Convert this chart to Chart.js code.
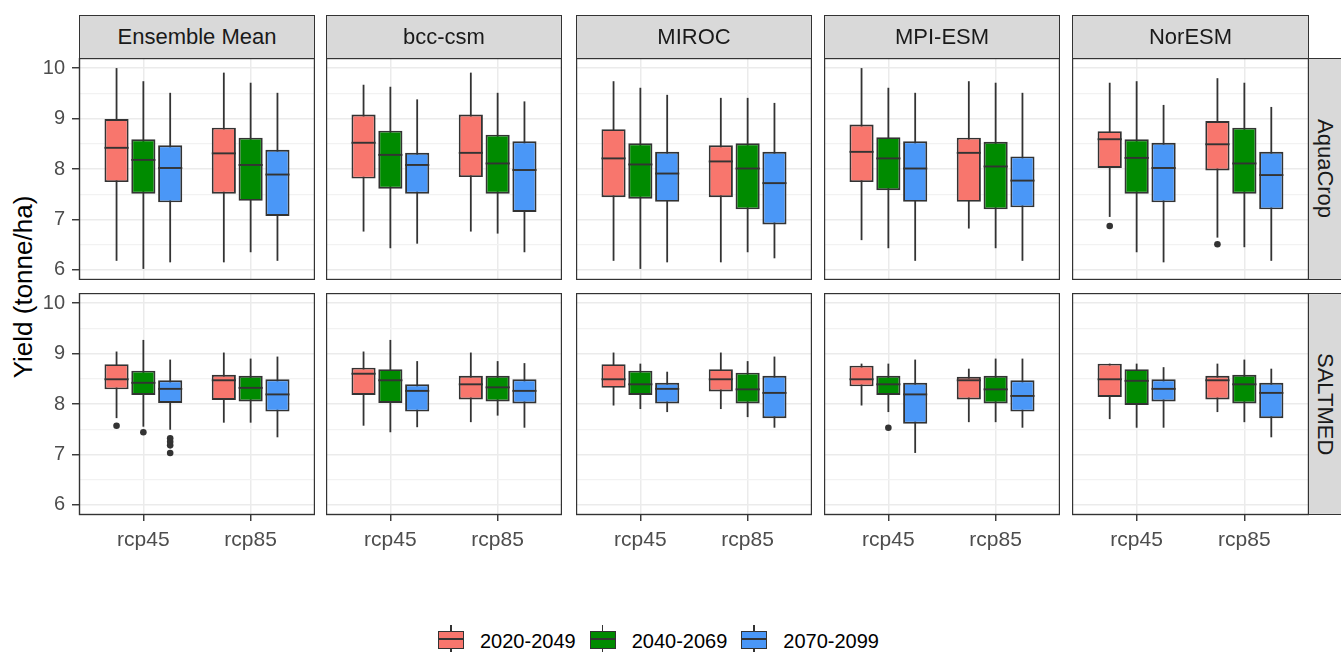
<!DOCTYPE html>
<html>
<head>
<meta charset="utf-8">
<title>Yield boxplots by GCM and crop model</title>
<script src="https://cdn.jsdelivr.net/npm/chart.js@4.4.1/dist/chart.umd.min.js"></script>
<style>
  html, body { margin: 0; padding: 0; background: #fff; }
  body { width: 1341px; height: 652px; position: relative; overflow: hidden;
         font-family: 'Liberation Sans', Arial, sans-serif; }
  canvas { position: absolute; }
  .strip { position: absolute; box-sizing: border-box; background: #d9d9d9;
           border: 1.3px solid #333; color: #1a1a1a; font-size: 22px;
           display: flex; align-items: center; justify-content: center; white-space: nowrap; }
  .strip.right { writing-mode: vertical-rl; }
  .ytitle { position: absolute; left: 23px; top: 287px; font-size: 26px; color: #000;
            transform: translate(-50%, -50%) rotate(-90deg); white-space: nowrap; }
  .legend { position: absolute; left: 438px; top: 622px; display: flex; }
  .item { display: flex; align-items: center; height: 38px; margin-right: 14px; }
  .key { position: relative; width: 26px; height: 38px; }
  .key .wh { position: absolute; left: 12px; top: 3px; width: 1.8px; height: 32px; background: #333; }
  .key .box { position: absolute; left: 0; top: 9px; width: 26px; height: 18px;
              box-sizing: border-box; border: 1.8px solid #333; }
  .key .med { position: absolute; left: 0; right: 0; top: 6px; height: 1.8px; background: #333; }
  .item span { margin-left: 16px; font-size: 20px; color: #000; }
</style>
</head>
<body>
<div class="ytitle">Yield (tonne/ha)</div>
<script>
/* Facetted boxplots: GCM (columns) x crop model (rows), boxes by period */

const MODELS = ['Ensemble Mean', 'bcc-csm', 'MIROC', 'MPI-ESM', 'NorESM'];
const CROP_MODELS = ['AquaCrop', 'SALTMED'];
const SCENARIOS = ['rcp45', 'rcp85'];
const PERIODS = ['2020-2049', '2040-2069', '2070-2099'];
const Y_MAJOR = [6, 7, 8, 9, 10];
const Y_MINOR = [6.5, 7.5, 8.5, 9.5];

// five numbers per box: [lower whisker, Q1, median, Q3, upper whisker]
// one row per period, each row = [rcp45, rcp85]
const AQUA_ENSEMBLE = [
  [[6.18, 7.74, 8.42, 8.99, 10.00], [6.15, 7.51, 8.31, 8.82, 9.91]],
  [[6.02, 7.51, 8.18, 8.59, 9.74], [6.35, 7.37, 8.08, 8.62, 9.71]],
  [[6.15, 7.34, 8.02, 8.47, 9.51], [6.18, 7.07, 7.89, 8.38, 9.51]],
];
const AQUA_BCC = [
  [[6.76, 7.81, 8.52, 9.08, 9.67], [6.76, 7.84, 8.32, 9.08, 9.91]],
  [[6.43, 7.61, 8.28, 8.76, 9.63], [6.72, 7.51, 8.11, 8.68, 9.51]],
  [[6.52, 7.51, 8.08, 8.32, 9.38], [6.35, 7.15, 7.98, 8.55, 9.34]],
];
const AQUA_MIROC = [
  [[6.18, 7.44, 8.21, 8.79, 9.74], [6.15, 7.44, 8.15, 8.47, 9.41]],
  [[6.02, 7.41, 8.09, 8.51, 9.61], [6.35, 7.20, 8.01, 8.51, 9.41]],
  [[6.15, 7.35, 7.91, 8.34, 9.47], [6.23, 6.90, 7.72, 8.34, 9.31]],
];
const AQUA_MPI = [
  [[6.59, 7.74, 8.34, 8.88, 10.00], [6.82, 7.35, 8.32, 8.62, 9.74]],
  [[6.43, 7.58, 8.21, 8.63, 9.61], [6.43, 7.20, 8.05, 8.54, 9.71]],
  [[6.18, 7.35, 8.01, 8.55, 9.51], [6.18, 7.24, 7.77, 8.25, 9.51]],
];
const AQUA_NOR = [
  [[7.05, 8.02, 8.59, 8.75, 9.71], [6.64, 7.97, 8.49, 8.95, 9.80]],
  [[6.35, 7.51, 8.22, 8.59, 9.74], [6.45, 7.51, 8.11, 8.82, 9.71]],
  [[6.15, 7.34, 8.02, 8.52, 9.27], [6.18, 7.20, 7.88, 8.34, 9.23]],
];

const SALT_ENSEMBLE = [
  [[7.72, 8.29, 8.49, 8.79, 9.04], [7.63, 8.08, 8.47, 8.58, 9.02]],
  [[7.55, 8.18, 8.42, 8.66, 9.27], [7.63, 8.05, 8.32, 8.56, 8.90]],
  [[7.49, 8.02, 8.30, 8.47, 8.88], [7.34, 7.85, 8.19, 8.49, 8.94]],
];
const SALT_BCC = [
  [[7.57, 8.18, 8.60, 8.72, 9.04], [7.64, 8.09, 8.39, 8.56, 9.02]],
  [[7.44, 8.02, 8.47, 8.69, 9.27], [7.77, 8.05, 8.33, 8.56, 8.85]],
  [[7.54, 7.85, 8.26, 8.39, 8.85], [7.53, 8.01, 8.26, 8.49, 8.81]],
];
const SALT_MIROC = [
  [[7.97, 8.32, 8.49, 8.79, 9.02], [7.90, 8.25, 8.49, 8.69, 9.02]],
  [[7.90, 8.18, 8.39, 8.66, 8.80], [7.74, 8.01, 8.29, 8.62, 8.85]],
  [[7.84, 8.01, 8.30, 8.42, 8.64], [7.53, 7.72, 8.22, 8.56, 8.94]],
];
const SALT_MPI = [
  [[7.97, 8.35, 8.49, 8.76, 8.80], [7.64, 8.09, 8.47, 8.54, 8.70]],
  [[7.84, 8.18, 8.39, 8.56, 8.80], [7.64, 8.01, 8.29, 8.56, 8.90]],
  [[7.03, 7.61, 8.19, 8.42, 8.88], [7.53, 7.85, 8.16, 8.47, 8.90]],
];
const SALT_NOR = [
  [[7.70, 8.14, 8.49, 8.80, 8.80], [7.84, 8.09, 8.47, 8.56, 8.80]],
  [[7.53, 7.98, 8.46, 8.69, 8.80], [7.64, 8.01, 8.39, 8.58, 8.88]],
  [[7.53, 8.05, 8.30, 8.49, 8.73], [7.34, 7.72, 8.22, 8.42, 8.70]],
];

// outlier points, same shape (period x scenario)
const NO_OUT = [[[], []], [[], []], [[], []]];
const AQUA_NOR_OUT = [[[6.87], [6.51]], [[], []], [[], []]];
const SALT_ENSEMBLE_OUT = [[[7.57], []], [[7.44], []], [[7.32, 7.25, 7.18, 7.03], []]];
const SALT_MPI_OUT = [[[], []], [[7.53], []], [[], []]];

const STATS = [
  [AQUA_ENSEMBLE, AQUA_BCC, AQUA_MIROC, AQUA_MPI, AQUA_NOR],
  [SALT_ENSEMBLE, SALT_BCC, SALT_MIROC, SALT_MPI, SALT_NOR],
];
const OUTLIERS = [
  [NO_OUT, NO_OUT, NO_OUT, NO_OUT, AQUA_NOR_OUT],
  [SALT_ENSEMBLE_OUT, NO_OUT, NO_OUT, SALT_MPI_OUT, NO_OUT],
];

// colours and layout
const PERIOD_COLORS = ['#F8766D', '#008B00', '#4A97F7'];
const LINE = '#333333';
const PANEL_LEFT = [79, 326, 576, 824, 1072];
const PANEL_W = 236;
const PANEL_TOP = [58, 293];
const PANEL_H = 222;
const STRIP = 43;
const Y_AXIS_W = 79;
const X_AXIS_H = 44;

Chart.defaults.font.family = "'Liberation Sans', Arial, sans-serif";

const boxExtras = {
  id: 'boxExtras',
  afterDatasetsDraw(chart) {
    const ctx = chart.ctx;
    const y = chart.scales.y;
    chart.data.datasets.forEach((ds, i) => {
      if (!ds.medians) return;
      chart.getDatasetMeta(i).data.forEach((bar, j) => {
        const { x, width } = bar.getProps(['x', 'width'], true);
        const ym = y.getPixelForValue(ds.medians[j]);
        ctx.save();
        ctx.strokeStyle = LINE;
        ctx.fillStyle = LINE;
        ctx.lineWidth = 1.9;
        ctx.beginPath();
        ctx.moveTo(x - width / 2, ym);
        ctx.lineTo(x + width / 2, ym);
        ctx.stroke();
        ds.outliers[j].forEach(v => {
          ctx.beginPath();
          ctx.arc(x, y.getPixelForValue(v), 3.3, 0, Math.PI * 2);
          ctx.fill();
        });
        ctx.restore();
      });
    });
  },
  afterDraw(chart) {
    const a = chart.chartArea;
    const ctx = chart.ctx;
    ctx.save();
    ctx.strokeStyle = LINE;
    ctx.lineWidth = 1.4;
    ctx.strokeRect(a.left + 0.5, a.top + 0.5, a.right - a.left - 1, a.bottom - a.top - 1);
    ctx.restore();
  }
};

function isMajor(v) {
  return Number.isInteger(v);
}

function makePanel(r, c) {
  const stats = STATS[r][c];
  const outs = OUTLIERS[r][c];
  const showY = c === 0;
  const showX = r === CROP_MODELS.length - 1;

  const canvas = document.createElement('canvas');
  const left = showY ? PANEL_LEFT[c] - Y_AXIS_W : PANEL_LEFT[c];
  const w = PANEL_W + (showY ? Y_AXIS_W : 0) + (c === MODELS.length - 1 ? 1 : 0);
  const h = PANEL_H + (showX ? X_AXIS_H : 0);
  canvas.width = w;
  canvas.height = h;
  canvas.style.left = left + 'px';
  canvas.style.top = PANEL_TOP[r] + 'px';
  document.body.appendChild(canvas);

  const datasets = [];
  PERIODS.forEach((p, k) => {
    datasets.push({
      label: p,
      data: SCENARIOS.map((s, j) => ({ x: j + 1, y: [stats[k][j][1], stats[k][j][3]] })),
      medians: SCENARIOS.map((s, j) => stats[k][j][2]),
      outliers: SCENARIOS.map((s, j) => outs[k][j]),
      backgroundColor: PERIOD_COLORS[k],
      borderColor: LINE,
      borderWidth: 1.9,
      borderSkipped: false,
      stack: 'p' + k,
      order: 0,
      categoryPercentage: 0.75,
      barPercentage: 0.9,
    });
  });
  // whiskers share the stack slot of their box and sit behind it
  PERIODS.forEach((p, k) => {
    datasets.push({
      label: p + ' whiskers',
      data: SCENARIOS.map((s, j) => ({ x: j + 1, y: [stats[k][j][0], stats[k][j][4]] })),
      backgroundColor: LINE,
      borderWidth: 0,
      maxBarThickness: 1.8,
      stack: 'p' + k,
      order: 1,
      categoryPercentage: 0.75,
      barPercentage: 0.9,
    });
  });

  new Chart(canvas, {
    type: 'bar',
    data: { datasets },
    plugins: [boxExtras],
    options: {
      responsive: false,
      animation: false,
      devicePixelRatio: 1,
      layout: { padding: 0 },
      plugins: { legend: { display: false }, tooltip: { enabled: false } },
      scales: {
        x: {
          type: 'linear',
          min: 0.4,
          max: 2.6,
          offset: false,
          bounds: 'data',
          afterBuildTicks: s => { s.ticks = SCENARIOS.map((n, j) => ({ value: j + 1 })); },
          afterFit: s => { s.height = showX ? X_AXIS_H : 0; s.paddingLeft = 0; s.paddingRight = 0; },
          ticks: {
            display: showX, autoSkip: false, maxRotation: 0, padding: 7,
            color: '#4d4d4d', font: { size: 21 },
            callback: v => SCENARIOS[v - 1],
          },
          grid: {
            offset: false, color: '#ebebeb', lineWidth: 1.5,
            drawTicks: showX, tickLength: 6, tickColor: LINE, tickWidth: 1.4,
          },
          border: { display: false },
        },
        y: {
          min: 5.8,
          max: 10.2,
          stacked: false,
          bounds: 'data',
          afterBuildTicks: s => {
            s.ticks = Y_MAJOR.concat(Y_MINOR).sort((a, b) => a - b).map(v => ({ value: v }));
          },
          afterFit: s => { s.width = showY ? Y_AXIS_W : 0; s.paddingTop = 0; s.paddingBottom = 0; },
          ticks: {
            display: showY, autoSkip: false, padding: 7,
            color: '#4d4d4d', font: { size: 20 },
            callback: v => isMajor(v) ? String(v) : '',
          },
          grid: {
            color: ctx => isMajor(ctx.tick.value) ? '#ebebeb' : '#f2f2f2',
            lineWidth: ctx => isMajor(ctx.tick.value) ? 1.5 : 1.2,
            drawTicks: showY, tickLength: 7, tickWidth: 1.4,
            tickColor: ctx => isMajor(ctx.tick.value) ? LINE : 'rgba(0,0,0,0)',
          },
          border: { display: false },
        },
      },
    },
  });
}

function makeStrips() {
  MODELS.forEach((m, c) => {
    const d = document.createElement('div');
    d.className = 'strip';
    d.textContent = m;
    d.style.left = PANEL_LEFT[c] + 'px';
    d.style.top = (PANEL_TOP[0] - STRIP) + 'px';
    d.style.width = (PANEL_W + (c === MODELS.length - 1 ? 1 : 0)) + 'px';
    d.style.height = (STRIP + 1) + 'px';
    document.body.appendChild(d);
  });
  CROP_MODELS.forEach((m, r) => {
    const d = document.createElement('div');
    d.className = 'strip right';
    d.textContent = m;
    d.style.left = (PANEL_LEFT[MODELS.length - 1] + PANEL_W) + 'px';
    d.style.top = PANEL_TOP[r] + 'px';
    d.style.width = '34px';
    d.style.height = PANEL_H + 'px';
    document.body.appendChild(d);
  });
}

function makeLegend() {
  const lg = document.createElement('div');
  lg.className = 'legend';
  PERIODS.forEach((p, k) => {
    lg.insertAdjacentHTML('beforeend', `
      <div class="item">
        <div class="key"><div class="wh"></div>
          <div class="box" style="background:${PERIOD_COLORS[k]}"><div class="med"></div></div>
        </div>
        <span>${p}</span>
      </div>`);
  });
  document.body.appendChild(lg);
}

CROP_MODELS.forEach((cm, r) => MODELS.forEach((m, c) => makePanel(r, c)));
makeStrips();
makeLegend();
</script>
</body>
</html>
